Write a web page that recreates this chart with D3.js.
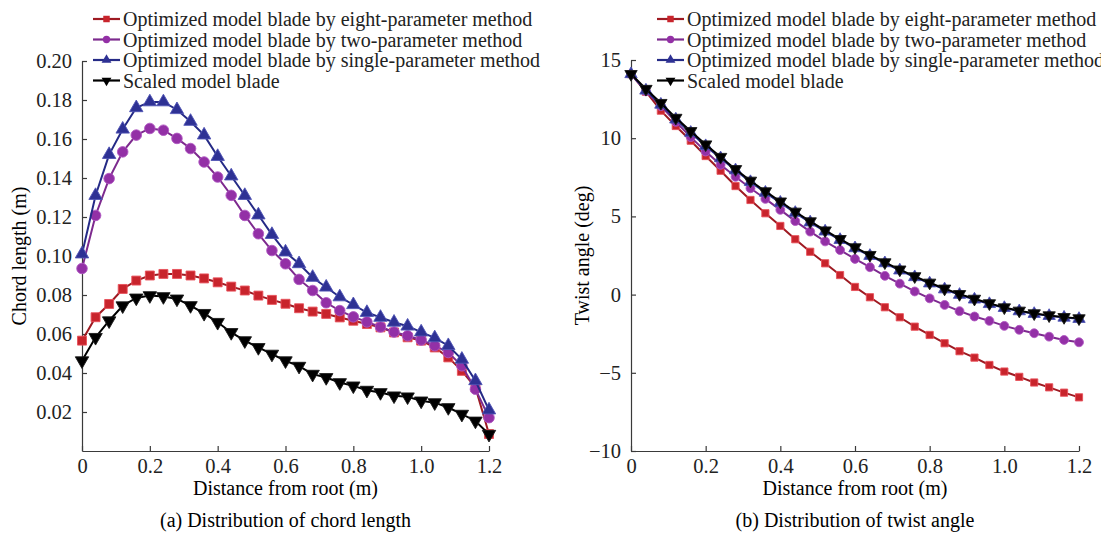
<!DOCTYPE html>
<html>
<head>
<meta charset="utf-8">
<script src="https://cdnjs.cloudflare.com/ajax/libs/d3/7.8.5/d3.min.js"></script>
<style>
body { margin: 0; background: #fff; }
svg { font-family: "Liberation Serif", "Times New Roman", serif; overflow: hidden; }
.axis path, .axis line { stroke: #3a3a3a; stroke-width: 1.2; }
.axis text { font-size: 20.5px; fill: #222; font-family: "Liberation Serif", serif; }
</style>
</head>
<body>
<svg id="chart"></svg>
<script>
var width = 1101, height = 533;
var font_size = "20px";

// distance from root (m)
var distance = [0, 0.04, 0.08, 0.12, 0.16, 0.2, 0.24, 0.28, 0.32, 0.36, 0.4,
    0.44, 0.48, 0.52, 0.56, 0.6, 0.64, 0.68, 0.72, 0.76, 0.8,
    0.84, 0.88, 0.92, 0.96, 1.0, 1.04, 1.08, 1.12, 1.16, 1.2];

var series_names = [
    "Optimized model blade by eight-parameter method",
    "Optimized model blade by two-parameter method",
    "Optimized model blade by single-parameter method",
    "Scaled model blade"
];

// (a) chord length (m)
var chord_eight = [0.0566, 0.0686, 0.0754, 0.0831, 0.0874, 0.0900, 0.0908, 0.0908, 0.0900, 0.0885, 0.0865,
    0.0843, 0.0823, 0.0797, 0.0775, 0.0755, 0.0732, 0.0715, 0.0703, 0.0685, 0.0668,
    0.0651, 0.0634, 0.0608, 0.0583, 0.0566, 0.0531, 0.0480, 0.0411, 0.0326, 0.0087];
var chord_two = [0.0936, 0.1208, 0.1397, 0.1534, 0.1620, 0.1654, 0.1645, 0.1603, 0.1551, 0.1482, 0.1405,
    0.1311, 0.1208, 0.1114, 0.1028, 0.0960, 0.0880, 0.0823, 0.0760, 0.0720, 0.0688,
    0.0662, 0.0636, 0.0610, 0.0591, 0.0569, 0.0540, 0.0505, 0.0437, 0.0317, 0.0171];
var chord_single = [0.101, 0.131, 0.152, 0.165, 0.176, 0.179, 0.179, 0.175, 0.169, 0.162, 0.151,
    0.141, 0.131, 0.121, 0.111, 0.102, 0.096, 0.089, 0.084, 0.079, 0.075,
    0.071, 0.0685, 0.066, 0.064, 0.061, 0.058, 0.054, 0.047, 0.036, 0.021];
var chord_scaled = [0.0463, 0.0583, 0.0668, 0.0745, 0.0785, 0.0797, 0.0792, 0.0780, 0.0746, 0.0706, 0.0660,
    0.0608, 0.0566, 0.0531, 0.0497, 0.0463, 0.0435, 0.0394, 0.0377, 0.0351, 0.0334,
    0.0312, 0.0300, 0.0283, 0.0278, 0.0257, 0.0248, 0.0223, 0.0189, 0.0154, 0.0086];

// (b) twist angle (deg)
var twist_eight = [14.1, 12.97, 11.76, 10.78, 9.84, 8.86, 7.92, 6.94, 6.05, 5.2, 4.39,
    3.54, 2.74, 2.0, 1.25, 0.49, -0.17, -0.81, -1.45, -2.05, -2.58,
    -3.11, -3.62, -4.03, -4.5, -4.92, -5.26, -5.62, -5.93, -6.27, -6.57];
var twist_two = [14.1, 13.0, 12.05, 11.05, 10.07, 9.15, 8.3, 7.53, 6.8, 6.12, 5.42,
    4.7, 4.03, 3.4, 2.85, 2.28, 1.75, 1.2, 0.7, 0.2, -0.24,
    -0.66, -1.06, -1.4, -1.68, -2.0, -2.25, -2.47, -2.69, -2.9, -3.05];
var twist_single = [14.1, 13.05, 12.15, 11.2, 10.35, 9.5, 8.72, 7.95, 7.2, 6.52, 5.88,
    5.23, 4.62, 4.04, 3.5, 2.97, 2.48, 2.01, 1.55, 1.12, 0.72,
    0.34, -0.01, -0.31, -0.6, -0.85, -1.06, -1.23, -1.36, -1.47, -1.55];
var twist_scaled = [14.1, 13.15, 12.25, 11.3, 10.45, 9.6, 8.8, 8.02, 7.28, 6.6, 5.95,
    5.3, 4.68, 4.1, 3.55, 3.02, 2.53, 2.06, 1.6, 1.17, 0.76,
    0.38, 0.03, -0.27, -0.56, -0.82, -1.03, -1.2, -1.33, -1.44, -1.52];

var x_ticks = [0, 0.2, 0.4, 0.6, 0.8, 1.0, 1.2];
var x_tick_labels = ["0", "0.2", "0.4", "0.6", "0.8", "1.0", "1.2"];
var chord_ticks = [0.02, 0.04, 0.06, 0.08, 0.10, 0.12, 0.14, 0.16, 0.18, 0.20];
var twist_ticks = [-10, -5, 0, 5, 10, 15];

var line_colour = ["#9e1a22", "#7d2a8e", "#252a86", "#000000"];
var fill_colour = ["#c8242c", "#9330a6", "#2e3194", "#000000"];
var edge_colour = ["#e8505a", "#b058c2", "#4f53b4", "#1a1a1a"];
var marker_type = [d3.symbolSquare, d3.symbolCircle, d3.symbolTriangle, d3.symbolTriangle];
var marker_rot = [0, 0, 0, 180];

var svg = d3.select("#chart").attr("width", width).attr("height", height);

var panels = [
    {
        left: 82, right: 489, top: 61, bottom: 451,
        ydomain: [0, 0.2], yticks: chord_ticks, yfmt: d3.format(".2f"),
        ylabel: "Chord length (m)", ylabel_x: 19,
        caption: "(a) Distribution of chord length",
        legend_x: 93,
        values: [chord_eight, chord_two, chord_single, chord_scaled],
        msize: [80, 88, 78, 78]
    },
    {
        left: 631, right: 1079, top: 60, bottom: 451,
        ydomain: [-10, 15], yticks: twist_ticks, yfmt: function(d){ return d < 0 ? "\u2212" + (-d) : d; },
        ylabel: "Twist angle (deg)", ylabel_x: 582,
        caption: "(b) Distribution of twist angle",
        legend_x: 657,
        values: [twist_eight, twist_two, twist_single, twist_scaled],
        msize: [52, 62, 66, 66]
    }
];

panels.forEach(function(p){
    var x = d3.scaleLinear().domain([0, 1.2]).range([p.left, p.right]);
    var y = d3.scaleLinear().domain(p.ydomain).range([p.bottom, p.top]);
    var cx = (p.left + p.right) / 2;

    var g = svg.append("g");

    g.append("g")
        .attr("class", "axis")
        .attr("transform", "translate(0," + p.bottom + ")")
        .call(d3.axisBottom(x).tickValues(x_ticks)
            .tickFormat(function(d, i){ return x_tick_labels[i]; })
            .tickSizeInner(-5).tickSizeOuter(0).tickPadding(7));

    g.append("g")
        .attr("class", "axis")
        .attr("transform", "translate(" + p.left + ",0)")
        .call(d3.axisLeft(y).tickValues(p.yticks).tickFormat(p.yfmt)
            .tickSizeInner(-5).tickSizeOuter(0).tickPadding(10));

    g.append("text")
        .attr("transform", "translate(" + p.ylabel_x + "," + ((p.top + p.bottom) / 2) + ") rotate(-90)")
        .attr("text-anchor", "middle")
        .attr("dominant-baseline", "central")
        .style("font-size", font_size)
        .text(p.ylabel);

    g.append("text")
        .attr("x", cx).attr("y", 488)
        .attr("text-anchor", "middle")
        .attr("dominant-baseline", "central")
        .style("font-size", font_size)
        .text("Distance from root (m)");

    g.append("text")
        .attr("x", cx).attr("y", 520)
        .attr("text-anchor", "middle")
        .attr("dominant-baseline", "central")
        .style("font-size", font_size)
        .text(p.caption);

    var line = d3.line()
        .x(function(d, i){ return x(distance[i]); })
        .y(function(d){ return y(d); });

    p.values.forEach(function(vals, s){
        g.append("path")
            .datum(vals)
            .attr("d", line)
            .attr("fill", "none")
            .attr("stroke", line_colour[s])
            .attr("stroke-width", 2);

        g.selectAll(".m" + s)
            .data(vals)
            .join("path")
            .attr("class", "m" + s)
            .attr("d", d3.symbol().type(marker_type[s]).size(p.msize[s]))
            .attr("transform", function(d, i){
                return "translate(" + x(distance[i]) + "," + y(d) + ") rotate(" + marker_rot[s] + ")";
            })
            .attr("fill", fill_colour[s])
            .attr("stroke", edge_colour[s])
            .attr("stroke-width", 0.9);
    });

    // legend
    var leg = g.append("g");
    var rows = [19, 39.5, 60, 80.5];
    series_names.forEach(function(name, s){
        leg.append("line")
            .attr("x1", p.legend_x).attr("x2", p.legend_x + 27)
            .attr("y1", rows[s]).attr("y2", rows[s])
            .attr("stroke", line_colour[s]).attr("stroke-width", 2.2);
        leg.append("path")
            .attr("d", d3.symbol().type(marker_type[s]).size(42))
            .attr("transform", "translate(" + (p.legend_x + 13.5) + "," + rows[s] + ") rotate(" + marker_rot[s] + ")")
            .attr("fill", fill_colour[s]);
        leg.append("text")
            .attr("x", p.legend_x + 30).attr("y", rows[s])
            .attr("dominant-baseline", "central")
            .style("font-size", font_size)
            .attr("fill", "#222")
            .text(name);
    });
});
</script>
</body>
</html>
